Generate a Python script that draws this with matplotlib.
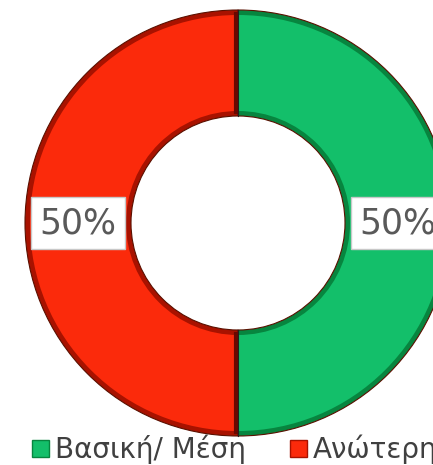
import matplotlib
matplotlib.use("Agg")
import matplotlib.pyplot as plt
from matplotlib.patches import Patch

labels = ["Βασική/ Μέση", "Ανώτερη"]
values = [50, 50]
colors = ["#13BF6A", "#FB2A0B"]
dark = ["#07853F", "#A81200"]

fig = plt.figure(figsize=(4.33, 4.65), dpi=100)
ax = fig.add_axes([0, 0, 1, 1])

cx, cy = 238, 242
R, W = 213, 106

# dark base ring (bevel shadow)
ax.pie(values, colors=dark, startangle=90, counterclock=False,
       center=(cx, cy), radius=R, frame=True,
       wedgeprops=dict(width=W, edgecolor="#5a1000", linewidth=0.8))
# main coloured ring, slightly inset
ax.pie(values, colors=colors, startangle=90, counterclock=False,
       center=(cx, cy), radius=R - 5, frame=True,
       wedgeprops=dict(width=W - 10, edgecolor="none"))
ax.set_xlim(0, 433)
ax.set_ylim(0, 465)
ax.set_aspect("equal")
ax.axis("off")

# divider shading
ax.plot([cx - 2, cx - 2], [cy + R - W + 4, cy + R - 4], color="#6a0800", lw=3)
ax.plot([cx - 2, cx - 2], [cy - R + 4, cy - R + W - 4], color="#6a0800", lw=3)
ax.plot([cx, cx], [cy + R - W, cy + R], color="#202020", lw=0.8)
ax.plot([cx, cx], [cy - R, cy - R + W], color="#202020", lw=0.8)

# percentage labels at mid-ring, 0 and 180 degrees
mid = R - W / 2
for i, v in enumerate(values):
    x = cx + mid if i == 0 else cx - mid
    ax.text(x, cy, f"{v}%", ha="center", va="center",
            fontsize=25, color="#595959",
            bbox=dict(boxstyle="square,pad=0.25", fc="white", ec="#c8c8c8", lw=1))

handles = [Patch(facecolor=c, edgecolor=d, lw=1) for c, d in zip(colors, dark)]
ax.legend(handles, labels, loc="center left", bbox_to_anchor=(0.075, 0.033),
          ncol=2, frameon=False, fontsize=20, handlelength=0.6,
          handleheight=0.6, handletextpad=0.2, columnspacing=1.6,
          labelcolor="#404040", borderaxespad=0, borderpad=0)

fig.savefig("out.png", dpi=100)
